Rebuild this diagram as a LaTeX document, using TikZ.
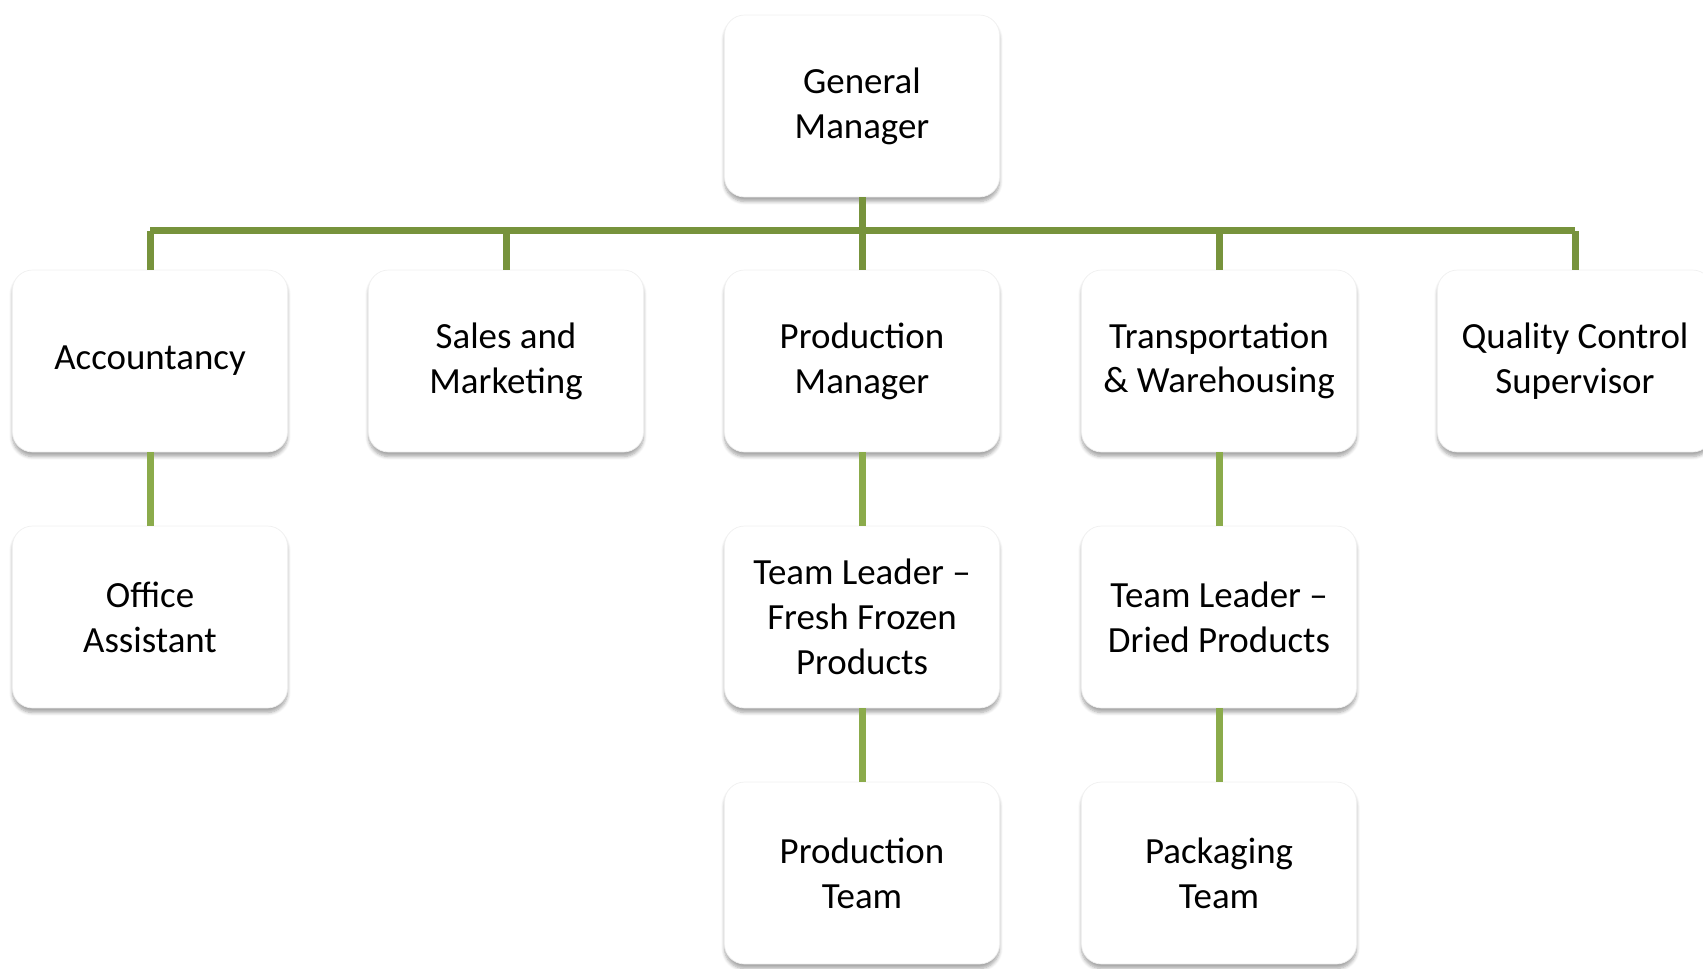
\documentclass[tikz,border=0pt]{standalone}
\usepackage{fontspec}
\setmainfont{Carlito}
\usetikzlibrary{shadows.blur}
\definecolor{busgreen}{HTML}{77933C}
\definecolor{stemgreen}{HTML}{8BAB4B}
\tikzset{
  post/.style={rectangle, rounded corners=0.4cm, fill=white, draw=black!6,
    minimum width=5.5cm, minimum height=3.64cm, align=center,
    font=\fontsize{21}{25.5}\selectfont,
    blur shadow={shadow xshift=0pt, shadow yshift=-0.09cm, shadow opacity=35, shadow blur steps=6}},
  bus/.style={line width=0.14cm, busgreen},
  stem/.style={line width=0.14cm, stemgreen}
}
\begin{document}
\begin{tikzpicture}[x=0.02cm,y=-0.02cm]
\useasboundingbox (0,0) rectangle (1703,969);
% first row
\node[post] (gm) at (862,106) {General\\Manager};
% second row
\node[post] (acc) at (150,361) {Accountancy};
\node[post] (sales) at (506,361) {Sales and\\Marketing};
\node[post] (prod) at (862,361) {Production\\Manager};
\node[post] (trans) at (1219,361) {Transportation\\\& Warehousing};
\node[post] (qc) at (1575,361) {Quality Control\\Supervisor};
% third row
\node[post] (office) at (150,617) {Office\\Assistant};
\node[post] (leadff) at (862,617) {Team Leader --\\Fresh Frozen\\Products};
\node[post] (leaddp) at (1219,617) {Team Leader --\\Dried Products};
% fourth row
\node[post] (pteam) at (862,873) {Production\\Team};
\node[post] (pack) at (1219,873) {Packaging\\Team};
% connectors
\coordinate (busy) at (862,231);
\draw[bus] (gm.south) -- (busy);
\draw[bus] (acc.north |- busy) -- (qc.north |- busy);
\foreach \n in {acc,sales,prod,trans,qc}
  \draw[bus] (\n.north |- busy) -- (\n.north);
\draw[stem] (acc.south) -- (office.north);
\draw[stem] (prod.south) -- (leadff.north);
\draw[stem] (trans.south) -- (leaddp.north);
\draw[stem] (leadff.south) -- (pteam.north);
\draw[stem] (leaddp.south) -- (pack.north);
\end{tikzpicture}
\end{document}
